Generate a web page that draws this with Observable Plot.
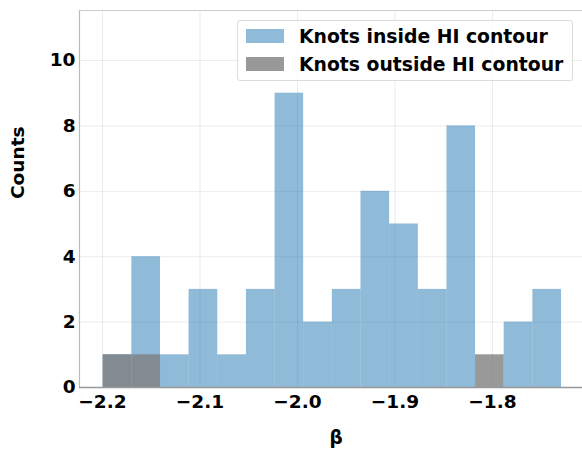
<!DOCTYPE html>
<html>
<head>
<meta charset="utf-8">
<script src="https://cdn.jsdelivr.net/npm/d3@7"></script>
<script src="https://cdn.jsdelivr.net/npm/@observablehq/plot@0.6"></script>
<style>
  html, body { margin: 0; padding: 0; background: #fff; }
  body { width: 582px; height: 449px; overflow: hidden; font-family: "DejaVu Sans", sans-serif; font-weight: bold; }
  #wrap { position: relative; width: 582px; height: 449px; }
  #legend { position: absolute; left: 237px; top: 20px; width: 334px; height: 59px;
    border: 1px solid #dcdcdc; border-radius: 3px; background: rgba(255,255,255,0.85); }
  .row { position: absolute; left: 8px; height: 20px; display: flex; align-items: center; }
  .sw { width: 38px; height: 14px; margin-right: 15px; }
  .lab { font-size: 18.8px; color: #000; white-space: nowrap; }
</style>
</head>
<body>
<div id="wrap"></div>
<script>
// Histogram bin edges (β)
const binEdges = [-2.1993, -2.1699, -2.1405, -2.1112, -2.0818, -2.0524, -2.0230, -1.9937,
  -1.9643, -1.9349, -1.9055, -1.8761, -1.8467, -1.8174, -1.7880, -1.7586, -1.7292];
// Counts per bin
const insideCounts  = [1, 4, 1, 3, 1, 3, 9, 2, 3, 6, 5, 3, 8, 0, 2, 3];
const outsideCounts = [1, 1, 0, 0, 0, 0, 0, 0, 0, 0, 0, 0, 0, 1, 0, 0];
// Series names
const seriesNames = ["Knots inside HI contour", "Knots outside HI contour"];
const seriesColors = ["#1f77b4", "gray"];
const seriesOpacity = [0.5, 0.8];
// Axis limits and ticks
const xLimits = [-2.2236, -1.7077];
const yLimits = [0, 11.53];
const xTicks = [-2.2, -2.1, -2.0, -1.9, -1.8];
const yTicks = [0, 2, 4, 6, 8, 10];

const toBins = counts => counts.map((c, i) => ({x1: binEdges[i], x2: binEdges[i + 1], y: c}));
const inside = toBins(insideCounts);
const outside = toBins(outsideCounts);

const fmt = d3.format(".1f");

const chart = Plot.plot({
  width: 582,
  height: 449,
  marginLeft: 79,
  marginRight: 0,
  marginTop: 10,
  marginBottom: 62,
  style: { fontFamily: "DejaVu Sans, sans-serif", fontWeight: "bold", fontSize: "18.5px", background: "#fff", overflow: "visible" },
  x: { domain: xLimits, ticks: xTicks, tickFormat: fmt, tickSize: 0, tickPadding: 7, label: null },
  y: { domain: yLimits, ticks: yTicks, tickFormat: d => String(d), tickSize: 0, tickPadding: 4, label: null },
  marks: [
    Plot.gridX(xTicks, { stroke: "#000", strokeOpacity: 0.08 }),
    Plot.gridY(yTicks, { stroke: "#000", strokeOpacity: 0.08 }),
    Plot.rectY(inside, { x1: "x1", x2: "x2", y: "y", fill: seriesColors[0], fillOpacity: seriesOpacity[0], inset: 0 }),
    Plot.rectY(outside, { x1: "x1", x2: "x2", y: "y", fill: seriesColors[1], fillOpacity: seriesOpacity[1], inset: 0 }),
    Plot.ruleX([xLimits[0]], { stroke: "#bbb", strokeWidth: 1.2 }),
    Plot.ruleY([yLimits[0]], { stroke: "#999", strokeWidth: 1.5 }),
    Plot.ruleY([yLimits[1]], { stroke: "#ccc", strokeWidth: 1.2 }),
    Plot.text(["β"], { frameAnchor: "bottom", dx: 5, dy: 56, fontSize: 18.5, fontWeight: "bold", fill: "#000" }),
    Plot.text(["Counts"], { frameAnchor: "left", dx: -61, rotate: -90, fontSize: 18.5, fontWeight: "bold", fill: "#000" })
  ]
});
const wrap = document.getElementById("wrap");
wrap.appendChild(chart);

// Legend overlaid at the top right of the plot area
const legend = document.createElement("div");
legend.id = "legend";
seriesNames.forEach((name, i) => {
  const row = document.createElement("div");
  row.className = "row";
  row.style.top = (i === 0 ? 5 : 33) + "px";
  const sw = document.createElement("div");
  sw.className = "sw";
  sw.style.background = seriesColors[i];
  sw.style.opacity = seriesOpacity[i];
  const lab = document.createElement("span");
  lab.className = "lab";
  lab.textContent = name;
  row.appendChild(sw);
  row.appendChild(lab);
  legend.appendChild(row);
});
wrap.appendChild(legend);
</script>
</body>
</html>
